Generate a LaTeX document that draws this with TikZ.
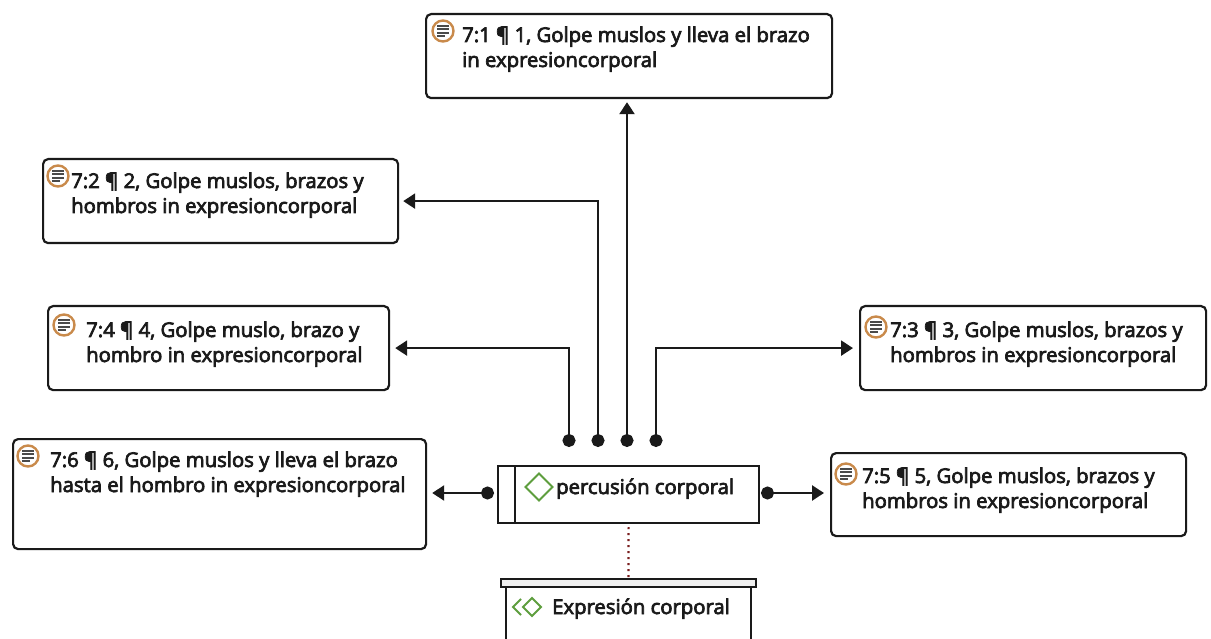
\documentclass[tikz,border=0pt]{standalone}
\usepackage{fontspec}
\setmainfont{Open Sans}[FakeBold=3.5]
\usetikzlibrary{arrows.meta}
\definecolor{ink}{HTML}{1A1A1A}
\definecolor{iconorange}{HTML}{C98A4B}
\definecolor{icongray}{HTML}{4A4A4A}
\definecolor{codegreen}{HTML}{5E9E3E}
\definecolor{linkred}{HTML}{7A1F1F}
\newcommand\twolines[2]{\vtop{\baselineskip=25pt\hbox{#1}\hbox{#2}}}
\tikzset{
  qbox/.style={draw=ink, line width=2.2pt, rounded corners=5pt, fill=white},
  txt/.style={inner sep=0pt, anchor=base west, text=ink, font=\fontsize{20.3}{25}\selectfont},
  docicon/.style={circle, draw=iconorange, line width=2.4pt, minimum size=21pt, inner sep=0pt,
    path picture={
      \draw[icongray, line width=1.8pt]
        ([xshift=-6pt,yshift=5pt]path picture bounding box.center) -- ++(12pt,0)
        ([xshift=-6pt,yshift=1.7pt]path picture bounding box.center) -- ++(12pt,0)
        ([xshift=-6pt,yshift=-1.7pt]path picture bounding box.center) -- ++(12pt,0)
        ([xshift=-6pt,yshift=-5pt]path picture bounding box.center) -- ++(8pt,0);
    }},
  conn/.style={draw=ink, line width=2.4pt, {Circle[length=13pt]}-{Triangle[length=12pt,width=15pt]}},
  codebox/.style={draw=ink, line width=2.2pt, fill=white},
}
\begin{document}
\begin{tikzpicture}[x=1pt,y=-1pt]
\clip (0,0) rectangle (1211,639);
\fill[white] (0,0) rectangle (1211,639);

% quotation boxes
\node[qbox, anchor=north west, minimum width=406pt, minimum height=84pt] (b1) at (425,13) {};
\node[qbox, anchor=north west, minimum width=355pt, minimum height=84pt] (b2) at (42,158) {};
\node[qbox, anchor=north west, minimum width=341pt, minimum height=84pt] (b4) at (47,305) {};
\node[qbox, anchor=north west, minimum width=346pt, minimum height=84pt] (b3) at (859,305) {};
\node[qbox, anchor=north west, minimum width=413pt, minimum height=110pt] (b6) at (12,438) {};
\node[qbox, anchor=north west, minimum width=355pt, minimum height=83pt] (b5) at (830,452) {};

% icons and texts
\node[docicon] (i1) at (443,31) {};
\node[txt] (t1) at (462,42) {\twolines{7:1 ¶ 1, Golpe muslos y lleva el brazo}{in expresioncorporal}};
\node[docicon] (i2) at (58,176) {};
\node[txt] (t2) at (71,188) {\twolines{7:2 ¶ 2, Golpe muslos, brazos y}{hombros in expresioncorporal}};
\node[docicon] (i4) at (64,325) {};
\node[txt] (t4) at (86,337) {\twolines{7:4 ¶ 4, Golpe muslo, brazo y}{hombro in expresioncorporal}};
\node[docicon] (i3) at (876,327) {};
\node[txt] (t3) at (890,337) {\twolines{7:3 ¶ 3, Golpe muslos, brazos y}{hombros in expresioncorporal}};
\node[docicon] (i5) at (846,474) {};
\node[txt] (t5) at (862,483) {\twolines{7:5 ¶ 5, Golpe muslos, brazos y}{hombros in expresioncorporal}};
\node[docicon] (i6) at (28,456) {};
\node[txt] (t6) at (50,467) {\twolines{7:6 ¶ 6, Golpe muslos y lleva el brazo}{hasta el hombro in expresioncorporal}};

% central code box
\node[codebox, anchor=north west, minimum width=261pt, minimum height=57pt] (perc) at (497,465) {};
\draw[ink, line width=2.2pt] (515,465) -- (515,522);
\node[draw=codegreen, line width=2pt, minimum size=19pt, inner sep=0pt, rotate=45] (dia) at (539,487) {};
\node[txt] (ptxt) at (556,494) {percusión corporal};

% group box
\node[codebox, anchor=north west, minimum width=245pt, minimum height=80pt] (expr) at (505,586) {};
\node[draw=ink, line width=1.8pt, fill=black!6, anchor=north west, minimum width=255pt, minimum height=8pt, inner sep=0pt] (bar) at (500,578) {};
\draw[codegreen, line width=2pt] (521,599) -- (513,607) -- (521,615);
\draw[codegreen, line width=2pt] (532,598) -- (523,607) -- (532,616) -- (541,607) -- cycle;
\node[txt] (etxt) at (552,614) {Expresión corporal};

% connector start points
\coordinate (s1) at (569,447);
\coordinate (s2) at (598,447);
\coordinate (s3) at (627,447);
\coordinate (s4) at (656,447);
\coordinate (sl) at (494,493);
\coordinate (sr) at (761,493);

\draw[conn, shorten >=5pt] (s1) |- (b4.east);
\draw[conn, shorten >=4pt] (s2) |- (b2.east);
\draw[conn, shorten >=3pt] (s3) -- (s3 |- b1.south);
\draw[conn, shorten >=6pt] (s4) |- (b3.west);
\draw[conn, shorten >=5pt] (sl) -- (sl -| b6.east);
\draw[conn, shorten >=6pt] (sr) -- (sr -| b5.west);

% dotted link
\draw[linkred, line width=2.2pt, dash pattern=on 2pt off 4pt] (perc.south) ++(0,3) -- (bar.north);
\end{tikzpicture}
\end{document}
